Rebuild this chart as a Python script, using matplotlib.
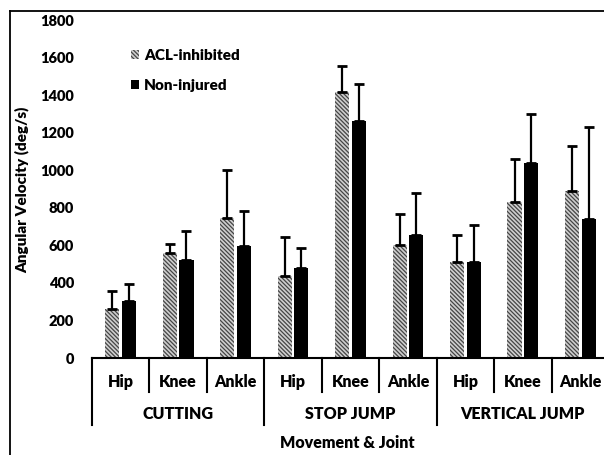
import matplotlib.pyplot as plt
import numpy as np
from matplotlib.lines import Line2D

plt.rcParams['font.family'] = ['Lato', 'DejaVu Sans']
plt.rcParams['font.weight'] = 'heavy'
plt.rcParams['hatch.linewidth'] = 0.9

groups = ['CUTTING', 'STOP JUMP', 'VERTICAL JUMP']
joints = ['Hip', 'Knee', 'Ankle']

acl_mean = [260, 557, 745, 437, 1418, 602, 509, 829, 889]
acl_err = [97, 50, 256, 207, 137, 165, 146, 229, 242]
non_mean = [303, 522, 598, 479, 1262, 655, 509, 1037, 740]
non_err = [93, 154, 185, 105, 199, 224, 199, 264, 488]

W, H = 604, 455
fig = plt.figure(figsize=(W / 100, H / 100), dpi=100)

# outer frame (right and bottom edges are cut off in the picture)
fig.add_artist(Line2D([10 / W, 10 / W], [0, 1 - 11 / H], color='black', lw=1.3))
fig.add_artist(Line2D([10 / W, 1], [1 - 11 / H, 1 - 11 / H], color='black', lw=1.3))

x0, x1 = 92, 609
y0, y1 = 358, 20
ax = fig.add_axes([x0 / W, 1 - y0 / H, (x1 - x0) / W, (y0 - y1) / H])

n = len(acl_mean)
x = np.arange(n)
bw = 0.245
off = 0.145

ax.bar(x - off, acl_mean, bw, color='#cfcfcf', edgecolor='#454545',
       hatch='\\\\\\\\\\\\\\\\', linewidth=0, label='ACL-inhibited')
ax.bar(x + off, non_mean, bw, color='black', label='Non-injured')
ax.errorbar(x - off, acl_mean, yerr=[np.zeros(n), acl_err], fmt='none',
            ecolor='black', elinewidth=1.6, capsize=3.5, capthick=2)
ax.errorbar(x + off, non_mean, yerr=[np.zeros(n), non_err], fmt='none',
            ecolor='black', elinewidth=1.6, capsize=3.5, capthick=2)

ax.set_xlim(-0.5, n - 0.5)
ax.set_ylim(0, 1800)
ax.set_yticks(range(0, 1801, 200))
ax.tick_params(axis='y', length=0, labelsize=10.5, pad=13)
ax.tick_params(axis='x', length=0)
ax.set_xticks([])
for s in ['top', 'right', 'left']:
    ax.spines[s].set_visible(False)
ax.spines['bottom'].set_linewidth(1.5)

# multi-level category axis
ax_h = y0 - y1
short = -34 / ax_h
long_ = -67 / ax_h
tr = ax.get_xaxis_transform()
for i in range(n + 1):
    bottom = long_ if i % 3 == 0 else short
    ax.plot([i - 0.5, i - 0.5], [0, bottom], transform=tr, color='black',
            lw=1.5, clip_on=False)
for i in range(n):
    ax.text(i, -24 / ax_h, joints[i % 3], transform=tr, ha='center',
            va='center', fontsize=11.5)
for g, name in enumerate(groups):
    ax.text(3 * g + 1, -56 / ax_h, name, transform=tr, ha='center',
            va='center', fontsize=11.5)

fig.text(347 / W, 1 - 443 / H, 'Movement & Joint', ha='center', va='center',
         fontsize=11.5)
fig.text(22 / W, 1 - 190 / H, 'Angular Velocity (deg/s)', rotation=90,
         ha='center', va='center', fontsize=11)

ax.legend(loc='upper left', bbox_to_anchor=(117 / W, 1 - 35 / H),
          bbox_transform=fig.transFigure, frameon=False, fontsize=11,
          handlelength=0.55, handleheight=0.55, handletextpad=0.3,
          labelspacing=1.1)

fig.savefig('out.png', dpi=100)
